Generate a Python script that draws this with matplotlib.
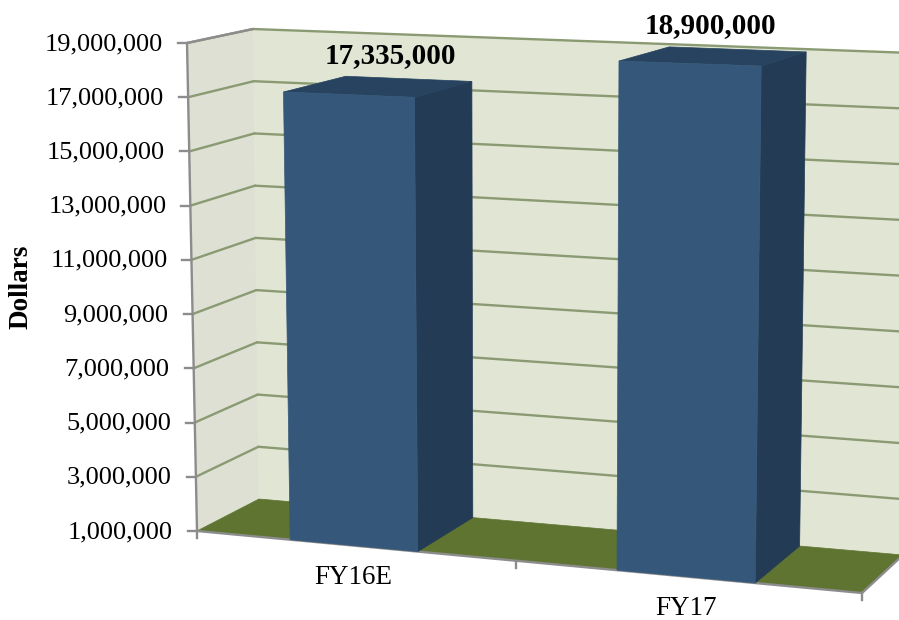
import matplotlib
matplotlib.use("Agg")
import matplotlib.pyplot as plt
from matplotlib.patches import Polygon

plt.rcParams['font.family'] = ['Liberation Serif', 'DejaVu Serif']

categories = ["FY16E", "FY17"]
values = [17335000, 18900000]
y_ticks = [1000000, 3000000, 5000000, 7000000, 9000000, 11000000,
           13000000, 15000000, 17000000, 19000000]

V_MIN = y_ticks[0]
V_MAX = y_ticks[-1]
BAR_WIDTH = 0.4  # share of a category slot
PERSP = 0.923    # x axis gets slightly wider to the right

# box corners in pixels: (left, right) for front and back, bottom and top
FRONT_BOTTOM = ((197, 531), (862, 593))
FRONT_TOP = ((187, 43), (871, 67))
BACK_BOTTOM = ((259, 499), (903, 555))
BACK_TOP = ((253, 29), (912, 53))


def Project(u, d, v):
    # u: along categories 0-1, d: depth 0-1, v: dollars
    s = PERSP * u / (1 - (1 - PERSP) * u)
    t = (v - V_MIN) / (V_MAX - V_MIN)
    pts = []
    for i in (0, 1):
        fb = FRONT_BOTTOM[0][i] + s * (FRONT_BOTTOM[1][i] - FRONT_BOTTOM[0][i])
        ft = FRONT_TOP[0][i] + s * (FRONT_TOP[1][i] - FRONT_TOP[0][i])
        bb = BACK_BOTTOM[0][i] + s * (BACK_BOTTOM[1][i] - BACK_BOTTOM[0][i])
        bt = BACK_TOP[0][i] + s * (BACK_TOP[1][i] - BACK_TOP[0][i])
        front = fb + t * (ft - fb)
        back = bb + t * (bt - bb)
        pts.append(front + d * (back - front))
    return pts[0], pts[1]


def Face(ax, corners, color, z):
    ax.add_patch(Polygon([Project(*c) for c in corners], closed=True,
                         facecolor=color, edgecolor=color, linewidth=0.5, zorder=z))


def Line(ax, a, b, color, lw, z):
    p, q = Project(*a), Project(*b)
    ax.plot([p[0], q[0]], [p[1], q[1]], color=color, linewidth=lw, zorder=z,
            solid_capstyle='round')


fig = plt.figure(figsize=(8.99, 6.2), dpi=100)
ax = fig.add_axes([0, 0, 1, 1])
ax.set_xlim(0, 899)
ax.set_ylim(620, 0)
ax.axis('off')

# Walls and floor
Face(ax, [(0, 0, V_MIN), (0, 1, V_MIN), (0, 1, V_MAX), (0, 0, V_MAX)], '#DDE0D3', 1)
Face(ax, [(0, 1, V_MIN), (1, 1, V_MIN), (1, 1, V_MAX), (0, 1, V_MAX)], '#E1E6D4', 1)
Face(ax, [(0, 0, V_MIN), (1, 0, V_MIN), (1, 1, V_MIN), (0, 1, V_MIN)], '#5F7431', 2)

# Gridlines
grid_color = '#8A9A72'
for v in y_ticks[1:]:
    Line(ax, (0, 0, v), (0, 1, v), grid_color, 1.7, 3)
    Line(ax, (0, 1, v), (1, 1, v), grid_color, 1.7, 3)

# Axes
axis_color = '#8C8C8C'
Line(ax, (0, 0, V_MIN), (0, 0, V_MAX), axis_color, 1.7, 4)
Line(ax, (0, 0, V_MAX), (0, 1, V_MAX), axis_color, 1.7, 4)
Line(ax, (0, 0, V_MIN), (1, 0, V_MIN), axis_color, 1.7, 4)
Line(ax, (1, 0, V_MIN), (1, 1, V_MIN), axis_color, 1.7, 4)

for v in y_ticks:
    x, y = Project(0, 0, v)
    ax.plot([x - 9, x], [y, y], color=axis_color, linewidth=1.7, zorder=4)
    ax.text(x - 24, y + 1, f"{v:,}", ha='right', va='center', fontsize=19, color='black')

for u in (0, 0.5, 1):
    x, y = Project(u, 0, V_MIN)
    ax.plot([x, x], [y, y + 7], color=axis_color, linewidth=1.7, zorder=4)

# Bars
label_dx = [12, -3]
for i, (name, val) in enumerate(zip(categories, values)):
    mid = (i + 0.5) / len(categories)
    half = BAR_WIDTH / len(categories) / 2
    u0, u1 = mid - half, mid + half
    Face(ax, [(u1, 0, V_MIN), (u1, 1, V_MIN), (u1, 1, val), (u1, 0, val)], '#233B54', 5)
    Face(ax, [(u0, 0, val), (u1, 0, val), (u1, 1, val), (u0, 1, val)], '#27435F', 5)
    Face(ax, [(u0, 0, V_MIN), (u1, 0, V_MIN), (u1, 0, val), (u0, 0, val)], '#35587A', 6)

    x, y = Project(mid, 0.5, val)
    ax.text(x + label_dx[i], y - 31, f"{val:,}", ha='center', va='center',
            fontsize=21, fontweight='bold', color='black', zorder=7)
    x, y = Project(mid, 0, V_MIN)
    ax.text(x, y + 32, name, ha='center', va='center', fontsize=19.5, color='black')

ax.text(21, 287, "Dollars", rotation=90, ha='center', va='center',
        fontsize=19.5, fontweight='bold', color='black')

fig.savefig("out.png", dpi=100)
